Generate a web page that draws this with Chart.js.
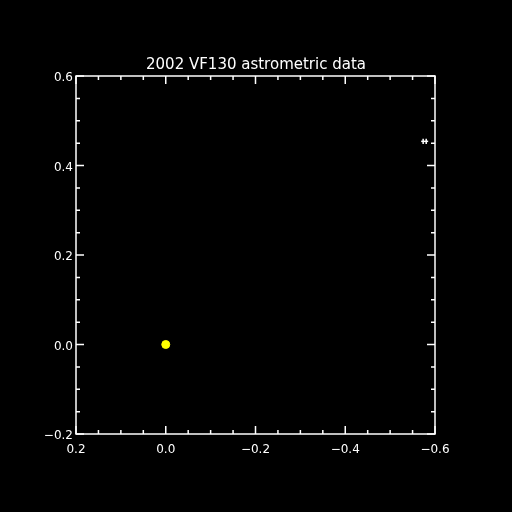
<!DOCTYPE html>
<html>
<head>
<meta charset="utf-8">
<script src="https://cdn.jsdelivr.net/npm/chart.js@4/dist/chart.umd.min.js"></script>
<style>
html,body{margin:0;padding:0;background:#000;}
canvas{display:block;}
</style>
</head>
<body>
<canvas id="c" width="512" height="512"></canvas>
<script>
// ---- data ----
const titleText = "2002 VF130 astrometric data";
const refX = [0.0];          // reference position (yellow)
const refY = [0.0];
const obsX = [-0.577];       // astrometric measurement
const obsY = [0.454];
const obsXErr = [0.0034];
const obsYErr = [0.006];
const xTicks = [0.2, 0.0, -0.2, -0.4, -0.6];
const yTicks = [-0.2, 0.0, 0.2, 0.4, 0.6];
const minorStep = 0.05;

const fmt = v => (v < -1e-9 ? "\u2212" : "") + Math.abs(v).toFixed(1);

const idlAxes = {
  id: 'idlAxes',
  beforeDraw(chart) {
    const ctx = chart.ctx;
    ctx.save();
    ctx.fillStyle = '#000';
    ctx.fillRect(0, 0, chart.width, chart.height);
    ctx.restore();
  },
  afterDatasetsDraw(chart) {
    const ctx = chart.ctx, a = chart.chartArea;
    const xs = chart.scales.x, ys = chart.scales.y;
    ctx.save();
    ctx.strokeStyle = '#fff';
    ctx.lineWidth = 1.5;
    ctx.strokeRect(a.left, a.top, a.right - a.left, a.bottom - a.top);
    const isMajor = (v, list) => list.some(t => Math.abs(t - v) < 1e-6);
    ctx.beginPath();
    const xmin = Math.min(...xTicks), xmax = Math.max(...xTicks);
    for (let v = xmin; v <= xmax + 1e-9; v += minorStep) {
      const len = isMajor(v, xTicks) ? 8 : 4;
      const px = xs.getPixelForValue(v);
      ctx.moveTo(px, a.bottom); ctx.lineTo(px, a.bottom - len);
      ctx.moveTo(px, a.top); ctx.lineTo(px, a.top + len);
    }
    const ymin = Math.min(...yTicks), ymax = Math.max(...yTicks);
    for (let v = ymin; v <= ymax + 1e-9; v += minorStep) {
      const len = isMajor(v, yTicks) ? 8 : 4;
      const py = ys.getPixelForValue(v);
      ctx.moveTo(a.left, py); ctx.lineTo(a.left + len, py);
      ctx.moveTo(a.right, py); ctx.lineTo(a.right - len, py);
    }
    ctx.stroke();
    ctx.beginPath();
    obsX.forEach((x, i) => {
      const py0 = ys.getPixelForValue(obsY[i] - obsYErr[i]);
      const py1 = ys.getPixelForValue(obsY[i] + obsYErr[i]);
      [x - obsXErr[i], x + obsXErr[i]].forEach(xe => {
        const px = xs.getPixelForValue(xe);
        ctx.moveTo(px, py0); ctx.lineTo(px, py1);
      });
    });
    ctx.stroke();
    ctx.restore();
  }
};

new Chart(document.getElementById('c'), {
  type: 'scatter',
  data: {
    datasets: [
      {
        data: refX.map((x, i) => ({x, y: refY[i]})),
        backgroundColor: '#ffff00',
        borderColor: '#ffff00',
        pointRadius: 4,
        pointStyle: 'circle'
      },
      {
        data: obsX.map((x, i) => ({x, y: obsY[i]})),
        backgroundColor: '#ffffff',
        borderColor: '#ffffff',
        borderWidth: 1.5,
        pointRadius: 3.5,
        pointStyle: 'line'
      }
    ]
  },
  options: {
    responsive: false,
    devicePixelRatio: 1,
    animation: false,
    events: [],
    layout: { padding: 0 },
    plugins: {
      legend: { display: false },
      tooltip: { enabled: false },
      title: {
        display: true,
        text: titleText,
        color: '#ffffff',
        font: { family: 'DejaVu Sans', size: 15, weight: 'normal', lineHeight: 1.2 },
        padding: { top: 56, bottom: 2 }
      }
    },
    scales: {
      x: {
        type: 'linear',
        reverse: true,
        min: Math.min(...xTicks),
        max: Math.max(...xTicks),
        afterBuildTicks: s => { s.ticks = xTicks.map(v => ({value: v})); },
        afterFit: s => { s.height = 78; },
        grid: { display: false, drawTicks: false },
        border: { display: false },
        ticks: {
          color: '#ffffff',
          padding: 9,
          maxRotation: 0,
          autoSkip: false,
          font: { family: 'DejaVu Sans', size: 12 },
          callback: v => fmt(v)
        }
      },
      y: {
        type: 'linear',
        min: Math.min(...yTicks),
        max: Math.max(...yTicks),
        afterBuildTicks: s => { s.ticks = yTicks.map(v => ({value: v})); },
        afterFit: s => { s.width = 76; },
        grid: { display: false, drawTicks: false },
        border: { display: false },
        ticks: {
          color: '#ffffff',
          padding: 3,
          labelOffset: 2,
          autoSkip: false,
          font: { family: 'DejaVu Sans', size: 12 },
          callback: v => fmt(v)
        }
      },
      y2: {
        type: 'linear',
        position: 'right',
        display: true,
        afterFit: s => { s.width = 77; },
        grid: { display: false, drawTicks: false },
        border: { display: false },
        ticks: { display: false }
      }
    }
  },
  plugins: [idlAxes]
});
</script>
</body>
</html>
